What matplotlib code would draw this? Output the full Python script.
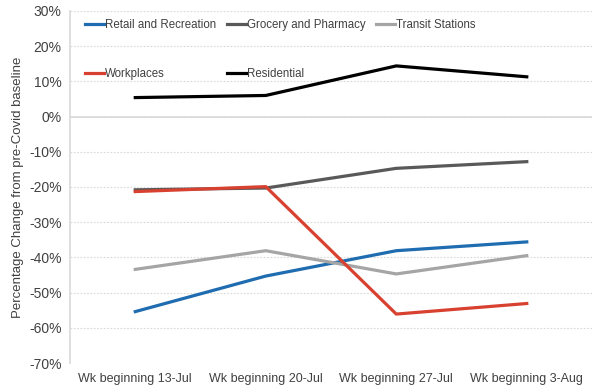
import matplotlib.pyplot as plt
import numpy as np
from matplotlib.ticker import FuncFormatter

plt.rcParams['font.family'] = ['Liberation Sans', 'DejaVu Sans']

weeks = ["Wk beginning 13-Jul", "Wk beginning 20-Jul", "Wk beginning 27-Jul", "Wk beginning 3-Aug"]

retail = [-55.4, -45.3, -38.1, -35.6]
grocery = [-20.8, -20.3, -14.7, -12.8]
transit = [-43.4, -38.1, -44.7, -39.5]
workplaces = [-21.3, -19.9, -56.1, -53.1]
residential = [5.4, 6.0, 14.4, 11.3]

fig = plt.figure(figsize=(6, 3.91), dpi=100)
ax = fig.add_axes([0.1167, 0.0716, 0.87, 0.9003])

x = np.arange(len(weeks))
lw = 2.3
h_retail, = ax.plot(x, retail, color='#1f6cb0', lw=lw, label='Retail and Recreation')
h_groc, = ax.plot(x, grocery, color='#595959', lw=lw, label='Grocery and Pharmacy')
h_trans, = ax.plot(x, transit, color='#a5a5a5', lw=lw, label='Transit Stations')
h_work, = ax.plot(x, workplaces, color='#d8412f', lw=lw, label='Workplaces')
h_res, = ax.plot(x, residential, color='#000000', lw=lw, label='Residential')

ax.set_xlim(-0.5, len(weeks) - 0.5)
ax.set_ylim(-70, 30)
ax.set_yticks(np.arange(-70, 31, 10))
ax.yaxis.set_major_formatter(FuncFormatter(lambda v, p: f"{v:.0f}%"))
ax.set_xticks(x)
ax.set_xticklabels(weeks)

ax.grid(axis='y', color='#d9d9d9', linestyle=(0, (1.5, 1.5)), lw=0.8)
ax.axhline(0, color='#d9d9d9', lw=1.2, zorder=1)
for s in ['top', 'right', 'bottom']:
    ax.spines[s].set_visible(False)
ax.spines['left'].set_color('#d9d9d9')
ax.spines['left'].set_linewidth(1.2)
ax.tick_params(axis='y', length=0, labelsize=10, colors='#404040', pad=6)
ax.tick_params(axis='x', length=0, labelsize=9, colors='#404040', pad=7)

ax.set_ylabel('Percentage Change from pre-Covid baseline', fontsize=9.5, color='#404040', labelpad=4)

# order so legend fills as rows: Retail/Grocery/Transit, then Workplaces/Residential
handles = [h_retail, h_work, h_groc, h_res, h_trans]
leg = ax.legend(handles=handles, labels=[h.get_label() for h in handles], ncol=3,
                loc='upper left', bbox_to_anchor=(0.014, 1.0), frameon=False,
                fontsize=8.3, handlelength=1.6, handletextpad=0.1,
                labelspacing=3.2, columnspacing=0.95, borderaxespad=0.3)
for t in leg.get_texts():
    t.set_color('#404040')

fig.savefig('out.png', dpi=100)
